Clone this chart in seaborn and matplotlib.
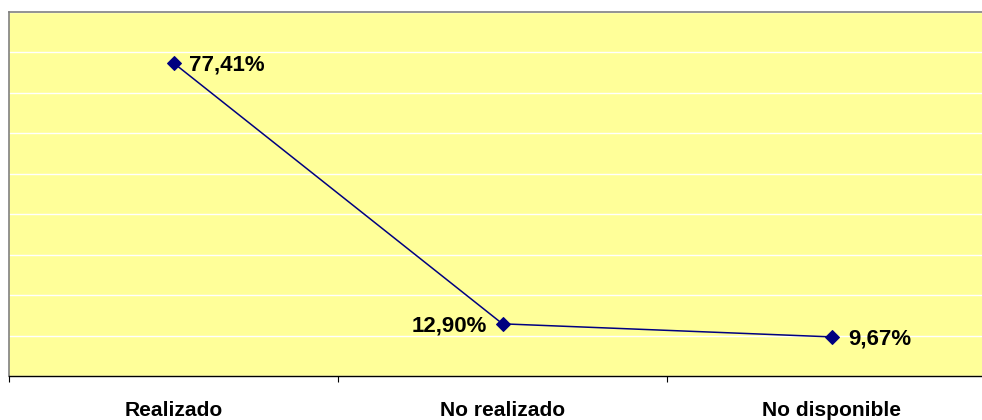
import matplotlib
matplotlib.use("Agg")
import matplotlib.pyplot as plt
import seaborn as sns
import pandas as pd

categorias = ["Realizado", "No realizado", "No disponible"]
porcentajes = [77.41, 12.90, 9.67]
etiquetas = ["77,41%", "12,90%", "9,67%"]

sns.set_theme(style="white")
plt.rcParams["font.family"] = ["Liberation Sans", "DejaVu Sans"]

df = pd.DataFrame({"categoria": categorias, "porcentaje": porcentajes})

fig = plt.figure(figsize=(9.82, 4.2), dpi=100)
fig.patch.set_facecolor("white")
ax = fig.add_axes([9 / 982, 44 / 420, 987 / 982, 364 / 420])
ax.set_facecolor("#FFFF99")

sns.lineplot(data=df, x="categoria", y="porcentaje", ax=ax, color="#000080",
             linewidth=1.1, marker="D", markersize=7, markeredgecolor="#000080",
             markerfacecolor="#000080", sort=False)

ax.set_xlim(-0.5, 2.5)
ax.set_ylim(0, 90)
ax.set_yticks(range(0, 91, 10))
ax.yaxis.grid(True, color="white", linewidth=1.0)
ax.xaxis.grid(False)
ax.tick_params(axis="y", left=False, labelleft=False)

ax.set_xticks(range(len(categorias)))
ax.set_xticklabels(categorias, fontsize=15.1, fontweight="bold", color="black")
ax.set_xticks([-0.5, 0.5, 1.5, 2.5], minor=True)
ax.tick_params(axis="x", which="major", length=0, pad=18)
ax.tick_params(axis="x", which="minor", length=4.5, width=0.8, color="black",
               direction="out", bottom=True)
ax.set_xlabel("")
ax.set_ylabel("")

for side in ("left", "top", "right"):
    ax.spines[side].set_color("#808080")
    ax.spines[side].set_linewidth(1.2)
ax.spines["bottom"].set_color("black")
ax.spines["bottom"].set_linewidth(1.0)

offsets = [(11, "left"), (-11, "right"), (12, "left")]
for i, (val, txt) in enumerate(zip(porcentajes, etiquetas)):
    dx, ha = offsets[i]
    ax.annotate(txt, (i, val), xytext=(dx, 0), textcoords="offset points",
                ha=ha, va="center_baseline", fontsize=16, fontweight="bold",
                color="black")

fig.savefig("out.png", dpi=100, facecolor="white")
